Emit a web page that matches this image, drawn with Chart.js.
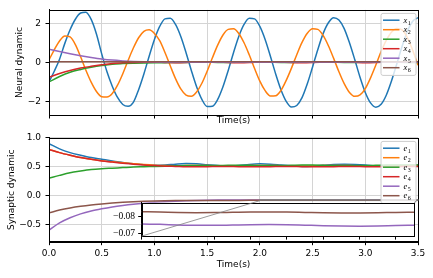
<!DOCTYPE html>
<html>
<head>
<meta charset="utf-8">
<script src="https://cdn.jsdelivr.net/npm/chart.js@4"></script>
<style>
  body { margin: 0; background: #fff; }
  #wrap { position: relative; width: 433px; height: 278px; }
  canvas { position: absolute; }
</style>
</head>
<body>
<div id="wrap">
  <canvas id="neural" width="433" height="130" style="left:0;top:0"></canvas>
  <canvas id="synaptic" width="433" height="150" style="left:0;top:128px"></canvas>
  <canvas id="zoomed" width="320" height="55" style="left:100px;top:190px"></canvas>
</div>
<script>
// sampling grids (s)
const tFast = [0,0.05,0.1,0.15,0.2,0.25,0.3,0.35,0.4,0.45,0.5,0.55,0.6,0.65,0.7,0.75,0.8,0.85,0.9,0.95,
  1,1.05,1.1,1.15,1.2,1.25,1.3,1.35,1.4,1.45,1.5,1.55,1.6,1.65,1.7,1.75,1.8,1.85,1.9,1.95,
  2,2.05,2.1,2.15,2.2,2.25,2.3,2.35,2.4,2.45,2.5,2.55,2.6,2.65,2.7,2.75,2.8,2.85,2.9,2.95,
  3,3.05,3.1,3.15,3.2,3.25,3.3,3.35,3.4,3.45,3.5];
const tSlow = [0,0.1,0.2,0.3,0.4,0.5,0.6,0.7,0.8,0.9,1,1.1,1.2,1.3,1.4,1.5,1.6,1.7,1.8,1.9,
  2,2.1,2.2,2.3,2.4,2.5,2.6,2.7,2.8,2.9,3,3.1,3.2,3.3,3.4,3.5];

// neural dynamic
const x1 = [-1.0,-0.45,0.17,0.98,1.68,2.22,2.54,2.58,2.21,1.46,
  0.44,-0.48,-1.22,-1.80,-2.16,-2.25,-2.05,-1.40,-0.59,0.32,
  1.18,1.85,2.24,2.27,1.95,1.33,0.50,-0.41,-1.25,-1.90,
  -2.26,-2.25,-1.90,-1.25,-0.41,0.50,1.33,1.95,2.27,2.24,
  1.85,1.18,0.32,-0.59,-1.40,-2.00,-2.29,-2.21,-1.81,-1.10,
  -0.23,0.67,1.48,2.04,2.30,2.18,1.74,1.01,0.15,-0.76,
  -1.54,-2.08,-2.30,-2.15,-1.67,-0.93,-0.05,0.84,1.61,2.12,
  2.30];
const x2 = [0.13,0.65,1.10,1.36,1.31,0.92,0.29,-0.40,-1.01,-1.49,
  -1.76,-1.78,-1.60,-1.17,-0.58,0.10,0.74,1.27,1.60,1.68,
  1.49,1.12,0.51,-0.17,-0.83,-1.36,-1.68,-1.74,-1.52,-1.07,
  -0.45,0.24,0.89,1.41,1.70,1.73,1.49,1.01,0.38,-0.31,
  -0.96,-1.45,-1.72,-1.71,-1.44,-0.92,-0.29,0.40,1.03,1.50,
  1.73,1.70,1.39,0.86,0.21,-0.48,-1.09,-1.54,-1.74,-1.67,
  -1.34,-0.79,-0.13,0.56,1.15,1.57,1.74,1.67,1.27,0.62,
  -0.15];
const x3 = [-1.0,-0.72,-0.50,-0.36,-0.25,-0.16,-0.09,-0.06,-0.04,-0.025,
  -0.015,-0.01,-0.005,0,0.01,0.01,0,0,0.01,0.02,
  0.02,0.01,0,0,0.01,0.02,0.02,0.01,0,0,
  0.01,0.02,0.02,0.01,0,0];
const x4 = [-0.76,-0.57,-0.41,-0.29,-0.20,-0.12,-0.05,-0.02,0,0.01,
  0.01,0,-0.01,0,0.02,0.03,0.02,0,-0.01,0,
  0.03,0.04,0.02,0,-0.01,0,0.02,0.04,0.03,0.01,
  -0.01,0,0.02,0.04,0.03,0.01];
const x5 = [0.68,0.56,0.45,0.35,0.26,0.18,0.12,0.08,0.05,0.03,
  0.02,0.015,0.01,0.01,0.01,0.01,0.01,0.01,0.01,0.01,
  0.01,0.01,0.01,0.01,0.01,0.01,0.01,0.01,0.01,0.01,
  0.01,0.01,0.01,0.01,0.01,0.01];
const x6 = [0.04,0.04,0.03,0.03,0.03,0.03,0.03,0.03,0.03,0.03,
  0.03,0.03,0.03,0.03,0.03,0.03,0.03,0.03,0.03,0.03,
  0.03,0.03,0.03,0.03,0.03,0.03,0.03,0.03,0.03,0.03,
  0.03,0.03,0.03,0.03,0.03,0.03];

// synaptic dynamic
const e1 = [0.90,0.81,0.745,0.70,0.66,0.63,0.60,0.575,0.55,0.535,
  0.525,0.53,0.545,0.555,0.55,0.535,0.52,0.51,0.52,0.54,
  0.55,0.545,0.53,0.515,0.505,0.51,0.525,0.54,0.545,0.54,
  0.53,0.515,0.505,0.505,0.515,0.525];
const e2 = [0.80,0.745,0.70,0.66,0.63,0.605,0.585,0.567,0.552,0.538,
  0.527,0.52,0.518,0.52,0.522,0.52,0.515,0.512,0.515,0.52,
  0.523,0.522,0.518,0.515,0.512,0.515,0.52,0.523,0.522,0.518,
  0.515,0.512,0.512,0.515,0.518,0.52];
const e3 = [0.30,0.35,0.395,0.425,0.45,0.465,0.475,0.485,0.495,0.50,
  0.505,0.51,0.515,0.52,0.52,0.52,0.52,0.525,0.525,0.525,
  0.52,0.52,0.52,0.525,0.53,0.53,0.525,0.52,0.52,0.52,
  0.52,0.525,0.53,0.53,0.53,0.53];
const e4 = [0.80,0.745,0.70,0.66,0.63,0.60,0.58,0.56,0.545,0.53,
  0.52,0.51,0.505,0.50,0.50,0.50,0.505,0.505,0.50,0.50,
  0.50,0.50,0.505,0.505,0.50,0.50,0.50,0.50,0.505,0.505,
  0.50,0.50,0.50,0.50,0.505,0.505];
const e5 = [-0.60,-0.475,-0.385,-0.318,-0.268,-0.23,-0.198,-0.172,-0.15,-0.132,
  -0.117,-0.106,-0.097,-0.09,-0.085,-0.0815,-0.079,-0.0775,-0.0765,-0.076,
  -0.0757,-0.0755,-0.0751,-0.0749,-0.0749,-0.0751,-0.0753,-0.0754,-0.0753,-0.0750,
  -0.0747,-0.0745,-0.0744,-0.0745,-0.0748,-0.0750];
const e6 = [-0.30,-0.252,-0.215,-0.186,-0.163,-0.145,-0.13,-0.118,-0.108,-0.10,
  -0.094,-0.09,-0.087,-0.0855,-0.0848,-0.0843,-0.0839,-0.0836,-0.0834,-0.0832,
  -0.0830,-0.0828,-0.0825,-0.0824,-0.0825,-0.0827,-0.0829,-0.0829,-0.0828,-0.0826,
  -0.0824,-0.0823,-0.0823,-0.0824,-0.0826,-0.0827];

// ticks and ranges
const timeTicks = [0, 0.5, 1, 1.5, 2, 2.5, 3, 3.5];
const neuralTicks = [-2, 0, 2];
const synapticTicks = [-0.5, 0, 0.5, 1];
const zoomTimeTicks = [2, 2.2, 2.4, 2.6, 2.8, 3, 3.2, 3.4];
const zoomTicks = [-0.08, -0.07];
const zoomX = [2, 3.5];
const zoomY = [-0.0884, -0.0685];

const colors = ["#1f77b4", "#ff7f0e", "#2ca02c", "#d62728", "#9467bd", "#8c564b"];
const sans = "'DejaVu Sans', sans-serif";
const serif = "'Liberation Serif', 'DejaVu Serif', serif";
const minus = (s) => s.replace("-", "\u2212");

function pairs(ts, ys) {
  return ts.map((t, i) => ({ x: t, y: ys[i] }));
}

function lines(list) {
  return list.map(([label, ts, ys], i) => ({
    label,
    data: pairs(ts, ys),
    borderColor: colors[i],
    borderWidth: 1.5,
    pointRadius: 0,
    cubicInterpolationMode: "monotone",
    order: list.length - i,
  }));
}

// box round the plot area
const frame = {
  id: "frame",
  afterDatasetsDraw(chart) {
    const { ctx, chartArea: a } = chart;
    ctx.save();
    ctx.strokeStyle = "#000";
    ctx.lineWidth = 1;
    const l = Math.round(a.left) + 0.5, t = Math.round(a.top) + 0.5;
    ctx.strokeRect(l, t, Math.round(a.right) - Math.round(a.left), Math.round(a.bottom) - Math.round(a.top));
    ctx.restore();
  },
};

// legend drawn inside the plot, upper right
const cornerLegend = {
  id: "cornerLegend",
  afterDraw(chart, args, opts) {
    if (!opts.show) return;
    const { ctx, chartArea: a } = chart;
    const sets = chart.data.datasets;
    const w = 35, row = 9.5;
    const h = sets.length * row + 5;
    const left = a.right - 2.5 - w, top = a.top + 3;
    ctx.save();
    ctx.beginPath();
    ctx.roundRect(left + 0.5, top + 0.5, w, h, 2);
    ctx.fillStyle = "rgba(255,255,255,0.8)";
    ctx.fill();
    ctx.strokeStyle = "#cccccc";
    ctx.lineWidth = 1;
    ctx.stroke();
    sets.forEach((ds, i) => {
      const y = top + 7.3 + i * row;
      ctx.strokeStyle = ds.borderColor;
      ctx.lineWidth = 1.5;
      ctx.beginPath();
      ctx.moveTo(left + 2.5, y);
      ctx.lineTo(left + 19, y);
      ctx.stroke();
      ctx.fillStyle = "#000";
      ctx.textBaseline = "alphabetic";
      ctx.font = "italic 8.5px " + serif;
      const sym = ds.label.slice(0, -1);
      ctx.fillText(sym, left + 23, y + 2.5);
      const sw = ctx.measureText(sym).width;
      ctx.font = "6px " + serif;
      ctx.fillText(ds.label.slice(-1), left + 23 + sw + 0.5, y + 4.5);
    });
    ctx.restore();
  },
};

// mark of the zoomed region on the main plot
const zoomMark = {
  id: "zoomMark",
  afterDatasetsDraw(chart, args, opts) {
    if (!opts.show) return;
    const { ctx, scales: { x, y } } = chart;
    const l = x.getPixelForValue(zoomX[0]), r = x.getPixelForValue(zoomX[1]);
    const t = y.getPixelForValue(zoomY[1]), b = y.getPixelForValue(zoomY[0]);
    ctx.save();
    ctx.strokeStyle = "#808080";
    ctx.lineWidth = 0.8;
    ctx.strokeRect(l, t, r - l, b - t);
    ctx.restore();
  },
};

function fixSize(w, h) {
  return (scale) => {
    if (w != null) scale.width = w;
    if (h != null) scale.height = h;
  };
}
function setTicks(values) {
  return (scale) => { scale.ticks = values.map((v) => ({ value: v })); };
}

const gridStyle = { color: "#d4d4d4", lineWidth: 1, tickColor: "#000", tickLength: 3.5 };

function mainOptions(cfg) {
  return {
    responsive: false,
    animation: false,
    devicePixelRatio: 1,
    layout: { padding: { left: 0, right: 15, top: cfg.top, bottom: 0 } },
    plugins: {
      legend: { display: false },
      tooltip: { enabled: false },
      cornerLegend: { show: true },
      zoomMark: { show: cfg.mark },
    },
    scales: {
      x: {
        type: "linear",
        min: 0,
        max: 3.5,
        afterBuildTicks: setTicks(timeTicks),
        afterFit: fixSize(null, cfg.xHeight),
        grid: gridStyle,
        border: { color: "#000" },
        ticks: {
          display: cfg.xLabels,
          color: "#000",
          padding: 3.5,
          maxRotation: 0,
          autoSkip: false,
          font: { family: sans, size: 9 },
          callback: (v) => v.toFixed(1),
        },
        title: {
          display: true,
          text: "Time(s)",
          color: "#000",
          font: { family: sans, size: 9 },
          padding: { top: 0, bottom: cfg.titlePad },
        },
      },
      y: {
        min: cfg.yMin,
        max: cfg.yMax,
        afterBuildTicks: setTicks(cfg.yTicks),
        afterFit: fixSize(49, null),
        grid: gridStyle,
        border: { color: "#000" },
        ticks: {
          color: "#000",
          padding: 4.5,
          font: { family: sans, size: 9 },
          callback: cfg.yFormat,
        },
        title: {
          display: true,
          text: cfg.yTitle,
          color: "#000",
          font: { family: sans, size: 9 },
          padding: { top: cfg.yTitlePad, bottom: 0 },
        },
      },
    },
  };
}

const neuralChart = new Chart(document.getElementById("neural"), {
  type: "line",
  data: {
    datasets: lines([
      ["x1", tFast, x1], ["x2", tFast, x2], ["x3", tSlow, x3],
      ["x4", tSlow, x4], ["x5", tSlow, x5], ["x6", tSlow, x6],
    ]),
  },
  options: mainOptions({
    top: 7, xHeight: 15, xLabels: false, titlePad: 3.6,
    yMin: -2.7, yMax: 2.7, yTicks: neuralTicks,
    yFormat: (v) => minus(String(v)),
    yTitle: "Neural dynamic", yTitlePad: 14.6, mark: false,
  }),
  plugins: [frame, cornerLegend, zoomMark],
});

const synapticSets = [
  ["e1", tSlow, e1], ["e2", tSlow, e2], ["e3", tSlow, e3],
  ["e4", tSlow, e4], ["e5", tSlow, e5], ["e6", tSlow, e6],
];

const synapticChart = new Chart(document.getElementById("synaptic"), {
  type: "line",
  data: { datasets: lines(synapticSets) },
  options: mainOptions({
    top: 7.7, xHeight: 36.3, xLabels: true, titlePad: 7.6,
    yMin: -0.8, yMax: 1.0, yTicks: synapticTicks,
    yFormat: (v) => minus(v.toFixed(1)),
    yTitle: "Synaptic dynamic", yTitlePad: 6.1, mark: true,
  }),
  plugins: [frame, cornerLegend, zoomMark],
});

// inset: white background, frame and connector lines to the marked region
const insetDecor = {
  id: "insetDecor",
  beforeDraw(chart) {
    const { ctx, chartArea: a } = chart;
    ctx.save();
    ctx.fillStyle = "#fff";
    ctx.fillRect(a.left, a.top, a.right - a.left, a.bottom - a.top);
    ctx.restore();
  },
  afterDraw(chart) {
    const { ctx, chartArea: a } = chart;
    const main = synapticChart;
    const dx = main.canvas.offsetLeft - chart.canvas.offsetLeft;
    const dy = main.canvas.offsetTop - chart.canvas.offsetTop;
    const sx = main.scales.x, sy = main.scales.y;
    ctx.save();
    ctx.strokeStyle = "#808080";
    ctx.lineWidth = 0.8;
    ctx.beginPath();
    ctx.moveTo(a.left, a.bottom);
    ctx.lineTo(sx.getPixelForValue(zoomX[0]) + dx, sy.getPixelForValue(zoomY[0]) + dy);
    ctx.moveTo(a.right, a.top);
    ctx.lineTo(sx.getPixelForValue(zoomX[1]) + dx, sy.getPixelForValue(zoomY[1]) + dy);
    ctx.stroke();
    ctx.restore();
  },
};

new Chart(document.getElementById("zoomed"), {
  type: "line",
  data: {
    datasets: lines(synapticSets).slice(4).map((ds, i) => ({ ...ds, borderColor: colors[4 + i] })),
  },
  options: {
    responsive: false,
    animation: false,
    devicePixelRatio: 1,
    layout: { padding: { left: 0, right: 6, top: 12.7, bottom: 0 } },
    plugins: { legend: { display: false }, tooltip: { enabled: false } },
    scales: {
      x: {
        type: "linear",
        min: zoomX[0],
        max: zoomX[1],
        afterBuildTicks: setTicks(zoomTimeTicks),
        afterFit: fixSize(null, 7.3),
        grid: { drawOnChartArea: false, tickColor: "#000", tickLength: 3.5 },
        border: { color: "#000" },
        ticks: { display: false },
      },
      y: {
        min: zoomY[0],
        max: zoomY[1],
        reverse: true,
        afterBuildTicks: setTicks(zoomTicks),
        afterFit: fixSize(41.7, null),
        grid: { drawOnChartArea: false, tickColor: "#000", tickLength: 3.5 },
        border: { color: "#000" },
        ticks: {
          color: "#000",
          padding: 3.2,
          font: { family: serif, size: 9.5 },
          callback: (v) => minus(v.toFixed(2)),
        },
      },
    },
  },
  plugins: [insetDecor, frame],
});
</script>
</body>
</html>
